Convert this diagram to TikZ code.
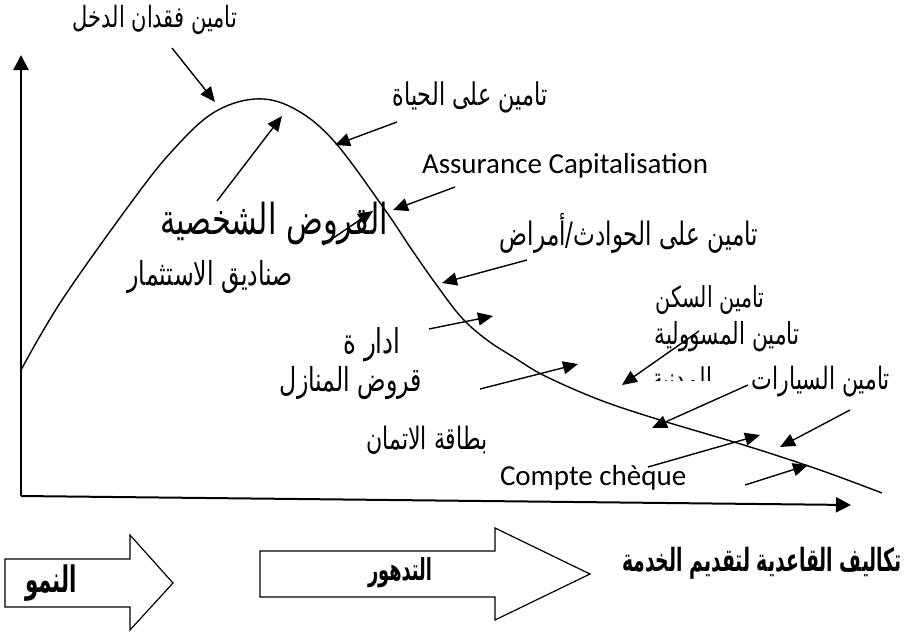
\documentclass[tikz,border=0pt]{standalone}
\usepackage{fontspec}
\usepackage{graphicx}
\usetikzlibrary{arrows.meta}
\setmainfont{Carlito}
\newfontfamily\arabicfont[Script=Arabic]{DejaVu Sans}
\TeXXeTstate=1
\newcommand{\artxt}[2]{\scalebox{1}[1.4]{\resizebox{#1pt}{!}{\arabicfont #2}}}
\newcommand{\artxtb}[2]{\scalebox{1}[1.7]{\resizebox{#1pt}{!}{\arabicfont\bfseries #2}}}
\tikzset{
  lbl/.style={inner sep=0pt, outer sep=0pt},
  curveline/.style={line width=1.4pt},
  axisline/.style={line width=2pt, -{Triangle[length=15pt,width=15pt]}},
  ptr/.style={line width=1.4pt, -{Triangle[length=15pt,width=13pt]}},
  blockarrow/.style={line width=1.2pt, line join=miter},
}
\begin{document}
\begin{tikzpicture}[x=1pt,y=-1pt]
\useasboundingbox (0,0) rectangle (908,632);

% axes
\coordinate (origin) at (21,496);
\coordinate (ytop) at (21,55);
\coordinate (xend) at (851,505);
\draw[axisline] (origin) -- (ytop);
\draw[axisline] (origin) -- (xend);

% life-cycle curve
\draw[curveline] plot[smooth, tension=0.6] coordinates {
 (21,370) (62,300) (133,200) (173,150) (213,113) (255,99)
 (293,108) (333,140) (383,207) (412,250) (438,287) (462,318) (487,340)
 (515,358) (545,376) (600,400) (660,420) (747,446) (820,470) (882,493)};

% labels
\node[lbl] (l1) at (155,20) {\artxt{164}{\beginR تامين فقدان الدخل\endR}};
\node[lbl] (l2) at (470,97) {\artxt{155}{\beginR تامين على الحياة\endR}};
\node[lbl, anchor=base west, font=\fontsize{29}{34}\selectfont] (l3) at (422,173) {Assurance Capitalisation};
\node[lbl] (l4) at (274,223) {\artxt{228}{\beginR القروض الشخصية\endR}};
\node[lbl] (l5) at (210,277) {\artxt{165}{\beginR صناديق الاستثمار\endR}};
\node[lbl] (l6) at (629,233) {\artxt{258}{\beginR تامين على الحوادث/أمراض\endR}};
\node[lbl] (l7) at (710,300) {\artxt{109}{\beginR تامين السكن\endR}};
\node[lbl] (l8) at (727,337) {\artxt{145}{\beginR تامين المسوولية\endR}};
\begin{scope}
\clip (630,355) rectangle (730,380);
\node[lbl] (l9) at (682,380) {\artxt{60}{\beginR المدنية\endR}};
\end{scope}
\node[lbl] (l10) at (821,382) {\artxt{138}{\beginR تامين السيارات\endR}};
\node[lbl] (l11) at (372,345) {\artxt{57}{\beginR ادار ة\endR}};
\node[lbl] (l12) at (351,383) {\artxt{142}{\beginR قروض المنازل\endR}};
\node[lbl] (l13) at (427,440) {\artxt{121}{\beginR بطاقة الاتمان\endR}};
\node[lbl, anchor=base west, font=\fontsize{29}{34}\selectfont] (l14) at (500,485) {Compte chèque};

% pointer arrows
\coordinate (a1s) at (172,48);  \coordinate (a1e) at (215,102);
\coordinate (a2s) at (397,122); \coordinate (a2e) at (335,145);
\coordinate (a3s) at (455,187); \coordinate (a3e) at (393,210);
\coordinate (a4s) at (527,260); \coordinate (a4e) at (442,283);
\coordinate (a5s) at (217,201); \coordinate (a5e) at (282,116);
\coordinate (a6s) at (323,245); \coordinate (a6e) at (373,211);
\coordinate (a7s) at (429,329); \coordinate (a7e) at (493,316);
\coordinate (a8s) at (480,389); \coordinate (a8e) at (578,364);
\coordinate (a9s) at (699,331); \coordinate (a9e) at (622,385);
\coordinate (a10s) at (748,385); \coordinate (a10e) at (652,428);
\coordinate (a11s) at (850,410); \coordinate (a11e) at (780,447);
\coordinate (a12s) at (648,467); \coordinate (a12e) at (760,435);
\coordinate (a13s) at (745,485); \coordinate (a13e) at (808,465);
\foreach \i in {1,...,13} \draw[ptr] (a\i s) -- (a\i e);

% block arrows
\draw[blockarrow] (5,559) -- (130,559) -- (130,535) -- (173,583) -- (130,630) -- (130,607) -- (5,607) -- cycle;
\node[lbl] (grow) at (51,583) {\artxtb{52}{\beginR النمو\endR}};
\draw[blockarrow] (260,551) -- (495,551) -- (495,528) -- (590,574) -- (495,620) -- (495,597) -- (260,597) -- cycle;
\node[lbl] (decl) at (400,573) {\artxtb{64}{\beginR التدهور\endR}};
\node[lbl] (cost) at (762,563) {\artxtb{280}{\beginR تكاليف القاعدية لتقديم الخدمة\endR}};
\end{tikzpicture}
\end{document}
